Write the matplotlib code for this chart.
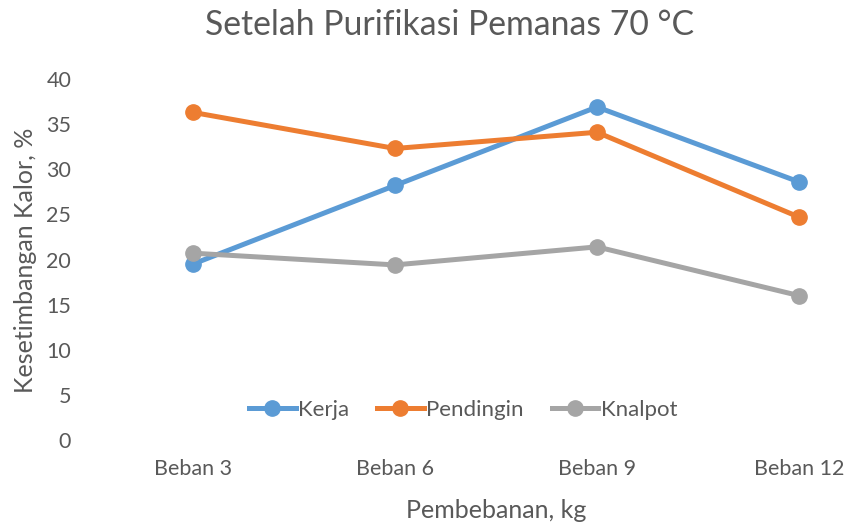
import matplotlib.pyplot as plt

plt.rcParams['font.family'] = ['Lato', 'DejaVu Sans']

kategori = ['Beban 3', 'Beban 6', 'Beban 9', 'Beban 12']
kerja = [19.5, 28.2, 36.9, 28.6]
pendingin = [36.3, 32.3, 34.1, 24.7]
knalpot = [20.7, 19.4, 21.4, 16.0]

teks = '#595959'

fig = plt.figure(figsize=(8.52, 5.32), dpi=100)
ax = fig.add_axes([92/852, 92/532, 808/852, 361/532])

x = range(len(kategori))
ax.plot(x, kerja, color='#5b9bd5', lw=3.6, marker='o', ms=11, label='Kerja')
ax.plot(x, pendingin, color='#ed7d31', lw=3.6, marker='o', ms=11, label='Pendingin')
ax.plot(x, knalpot, color='#a5a5a5', lw=3.6, marker='o', ms=11, label='Knalpot')

ax.set_xlim(-0.5, 3.5)
ax.set_ylim(0, 40)
ax.set_yticks(range(0, 41, 5))
ax.set_xticks(list(x))
ax.set_xticklabels(kategori)
for s in ax.spines.values():
    s.set_visible(False)
ax.tick_params(length=0, labelsize=15.5, colors=teks)
ax.tick_params(axis='y', pad=15)
ax.tick_params(axis='x', pad=14)

fig.text(450/852, 1 - 25/532, 'Setelah Purifikasi Pemanas 70 °C', ha='center', va='center',
         fontsize=24.3, color=teks)
fig.text(26/852, 1 - 260/532, 'Kesetimbangan Kalor, %', rotation=90, ha='center', va='center',
         fontsize=18, color=teks)
fig.text(496/852, 1 - 510/532, 'Pembebanan, kg', ha='center', va='center', fontsize=18, color=teks)

fig.legend(loc='center', bbox_to_anchor=(463/852, 1 - 410/532), ncol=3, frameon=False,
           fontsize=16, labelcolor=teks, handlelength=2.1, handletextpad=0.1, columnspacing=1.27)

fig.savefig('out.png', dpi=100)
